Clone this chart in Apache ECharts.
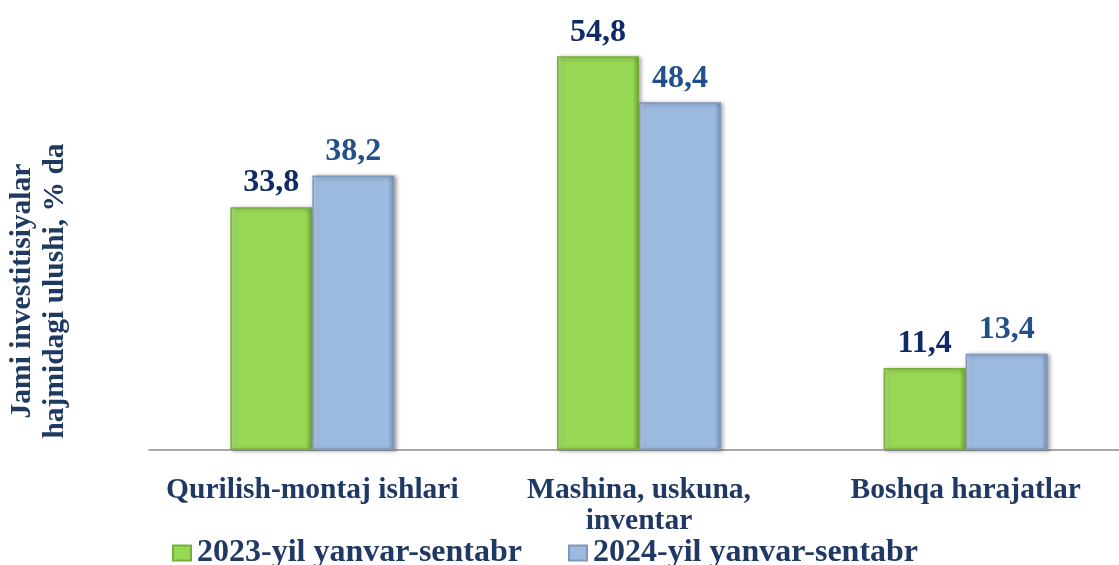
<!DOCTYPE html>
<html>
<head>
<meta charset="utf-8">
<script src="https://cdn.jsdelivr.net/npm/echarts@6/dist/echarts.min.js"></script>
<style>
  html, body { margin: 0; padding: 0; background: #fff; }
  #chart { width: 1119px; height: 565px; }
</style>
</head>
<body>
<div id="chart"></div>
<script>
const categories = ['Qurilish-montaj ishlari', 'Mashina, uskuna,\ninventar', 'Boshqa harajatlar']
const seriesNames = ['2023-yil yanvar-sentabr', '2024-yil yanvar-sentabr']
const values2023 = [33.8, 54.8, 11.4]
const values2024 = [38.2, 48.4, 13.4]
const yTitle = 'Jami investitisiyalar\nhajmidagi ulushi, % da'

const chart = echarts.init(document.getElementById('chart'))
const serif = '"Liberation Serif", "Times New Roman", serif'

// bevel-ish fill, light edges and a darker rim
function bevel(light, mid, dark) {
  return new echarts.graphic.LinearGradient(0, 0, 1, 0, [
    { offset: 0, color: light },
    { offset: 0.08, color: mid },
    { offset: 0.92, color: mid },
    { offset: 1, color: dark }
  ])
}

const fmt = p => String(p.value).replace('.', ',')

const option = {
  backgroundColor: '#fff',
  animation: false,
  grid: { left: 149, right: -10, top: 19, bottom: 115, outerBoundsMode: 'none', containLabel: false },
  graphic: [{
    type: 'text',
    x: 39,
    y: 291,
    rotation: Math.PI / 2,
    style: {
      text: yTitle,
      align: 'center',
      verticalAlign: 'middle',
      font: 'bold 29.5px ' + serif,
      lineHeight: 33,
      fill: '#1F3A60'
    }
  }],
  legend: {
    bottom: -9,
    left: 167,
    icon: 'rect',
    itemWidth: 18,
    itemHeight: 15,
    itemGap: 46,
    textStyle: { fontFamily: serif, fontWeight: 'bold', fontSize: 32, color: '#1F3864', padding: [0, 0, 0, 1] },
    data: seriesNames
  },
  xAxis: {
    type: 'category',
    data: categories,
    axisLine: { lineStyle: { color: '#8c8c8c', width: 1.5 } },
    axisTick: { show: false },
    axisLabel: {
      interval: 0,
      hideOverlap: false,
      margin: 25,
      fontFamily: serif,
      fontWeight: 'bold',
      fontSize: 29.5,
      lineHeight: 31,
      color: '#1F3864'
    }
  },
  yAxis: {
    type: 'value',
    min: 0,
    max: 60,
    axisLine: { show: false },
    axisTick: { show: false },
    axisLabel: { show: false },
    splitLine: { show: false }
  },
  series: [
    {
      name: seriesNames[0],
      type: 'bar',
      data: values2023,
      barWidth: 82,
      barGap: '0%',
      itemStyle: {
        color: bevel('#c2ec8c', '#97d855', '#6ea533'),
        borderColor: '#78ad3c',
        borderWidth: 1.5,
        shadowColor: 'rgba(0,0,0,0.35)',
        shadowBlur: 4,
        shadowOffsetX: 2,
        shadowOffsetY: 1
      },
      label: {
        show: true,
        position: 'top',
        distance: 8,
        formatter: fmt,
        fontFamily: serif,
        fontWeight: 'bold',
        fontSize: 32,
        color: '#0F2A66'
      }
    },
    {
      name: seriesNames[1],
      type: 'bar',
      data: values2024,
      barWidth: 82,
      itemStyle: {
        color: bevel('#c9daf0', '#9dbbe1', '#7791b6'),
        borderColor: '#7f97ba',
        borderWidth: 1.5,
        shadowColor: 'rgba(0,0,0,0.35)',
        shadowBlur: 4,
        shadowOffsetX: 2,
        shadowOffsetY: 1
      },
      label: {
        show: true,
        position: 'top',
        distance: 8,
        formatter: fmt,
        fontFamily: serif,
        fontWeight: 'bold',
        fontSize: 32,
        color: '#22508A'
      }
    }
  ]
}

chart.setOption(option)
</script>
</body>
</html>
